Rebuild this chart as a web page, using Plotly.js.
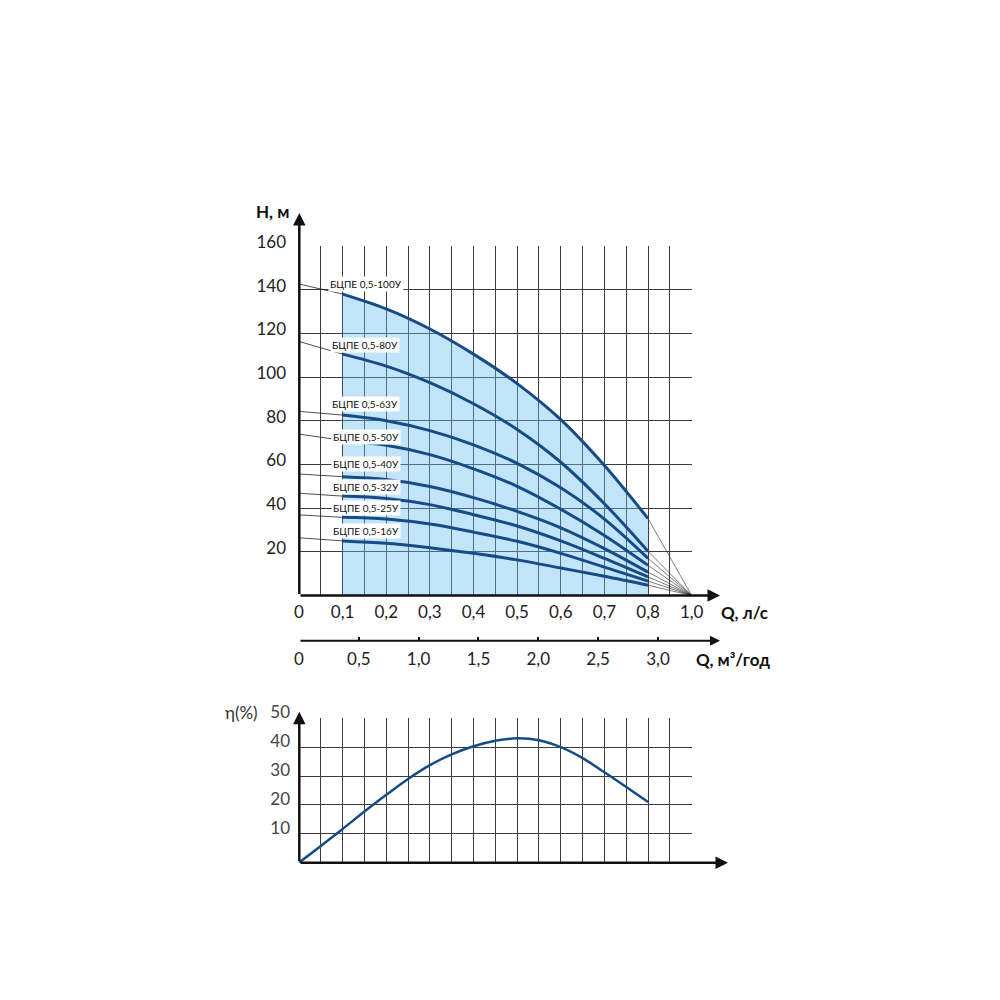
<!DOCTYPE html>
<html>
<head>
<meta charset="utf-8">
<script src="https://cdn.plot.ly/plotly-3.0.1.min.js"></script>
<style>
  html, body { margin: 0; padding: 0; background: #ffffff; }
  #chart { width: 1000px; height: 1000px; }
</style>
</head>
<body>
<div id="chart"></div>
<script>
// Pump family curves (H vs Q) and efficiency curve
const modelNames = ['БЦПЕ 0,5-100У', 'БЦПЕ 0,5-80У', 'БЦПЕ 0,5-63У', 'БЦПЕ 0,5-50У',
                    'БЦПЕ 0,5-40У', 'БЦПЕ 0,5-32У', 'БЦПЕ 0,5-25У', 'БЦПЕ 0,5-16У'];

// working range, л/с
const qFlow = [0.1, 0.2, 0.3, 0.4, 0.5, 0.6, 0.7, 0.8];

// head, м
const head100 = [138, 131.2, 122, 110.5, 97, 80.5, 59.5, 35.2];
const head80  = [110.5, 105, 97.4, 87.8, 76, 61, 42, 20.2];
const head63  = [82.6, 80, 75.5, 69, 60.5, 49.3, 35, 17];
const head50  = [71, 68.8, 64.5, 58, 50, 39.5, 27.5, 13.8];
const head40  = [54.4, 53.1, 49.9, 44.8, 38.5, 31, 21.5, 10.7];
const head32  = [45.5, 44.4, 41.6, 37, 31.8, 25, 17, 8.5];
const head25  = [35.8, 35, 32.7, 29, 24.8, 19.3, 13, 6.6];
const head16  = [25, 23.9, 21.9, 19.3, 16.3, 12.6, 8.8, 4.7];

// where the thin leader lines meet the H axis (Q = 0)
const headAtZero = [142.6, 116.3, 84.3, 73.9, 55.6, 46.8, 36.9, 26.4];

// all curves run out to the "1,0" mark of the axis
const qClosed = 0.9;

// efficiency, %
const effQ = [0, 0.05, 0.1, 0.15, 0.2, 0.25, 0.3, 0.35, 0.4, 0.45, 0.5, 0.55, 0.6, 0.65, 0.7, 0.75, 0.8];
const effPct = [0, 5.8, 11.7, 17.7, 23.5, 29, 33.8, 37.5, 40.3, 42.2, 43.1, 42.4, 40, 36.2, 31.3, 26.2, 21];

// axis ticks
const qTickVals = [0, 0.1, 0.2, 0.3, 0.4, 0.5, 0.6, 0.7, 0.8, 0.9];
const qTickText = ['0', '0,1', '0,2', '0,3', '0,4', '0,5', '0,6', '0,7', '0,8', '1,0'];
const m3TickVals = [0, 0.5, 1.0, 1.5, 2.0, 2.5, 3.0];
const m3TickText = ['0', '0,5', '1,0', '1,5', '2,0', '2,5', '3,0'];
const hTickVals = [20, 40, 60, 80, 100, 120, 140, 160];
const effTickVals = [10, 20, 30, 40, 50];

const heads = [head100, head80, head63, head50, head40, head32, head25, head16];

const CURVE = '#174b85';
const GRID = '#3c3c3c';
const FONT = 'Lato, "Open Sans", sans-serif';

// label placement for the model names (layout only)
const labelQ = [0.066, 0.071, 0.071, 0.073, 0.073, 0.073, 0.073, 0.073];
const labelH = [142.6, 114.5, 87.6, 72.5, 60.3, 49.6, 40.2, 29.7];

const traces = [];

// shaded working zone under the top curve
traces.push({
    x: qFlow, y: head100, type: 'scatter', mode: 'lines',
    fill: 'tozeroy', fillcolor: 'rgba(100,188,240,0.4)',
    line: { width: 0, shape: 'spline' },
    hoverinfo: 'skip', showlegend: false
});

heads.forEach(function(h, i) {
    // leader from H axis to curve start
    traces.push({
        x: [0, qFlow[0]], y: [headAtZero[i], h[0]], type: 'scatter', mode: 'lines',
        line: { color: '#222', width: 0.8 }, hoverinfo: 'skip', showlegend: false
    });
    // thin line from end of curve to closed valve point
    traces.push({
        x: [qFlow[qFlow.length - 1], qClosed], y: [h[h.length - 1], 0], type: 'scatter', mode: 'lines',
        line: { color: '#222', width: 0.6 }, hoverinfo: 'skip', showlegend: false
    });
});

heads.forEach(function(h, i) {
    traces.push({
        x: qFlow, y: h, type: 'scatter', mode: 'lines', name: modelNames[i],
        line: { color: CURVE, width: 3, shape: 'spline', smoothing: 1 },
        showlegend: false
    });
});

// efficiency curve
traces.push({
    x: effQ, y: effPct, type: 'scatter', mode: 'lines', xaxis: 'x2', yaxis: 'y2',
    line: { color: CURVE, width: 2.5, shape: 'spline', smoothing: 1 },
    showlegend: false
});

// empty trace so the м³/год axis is drawn
traces.push({ x: [], y: [], xaxis: 'x3', yaxis: 'y', type: 'scatter', hoverinfo: 'skip', showlegend: false });

function gridAxis(extra) {
    return Object.assign({
        showgrid: true, gridcolor: GRID, gridwidth: 1,
        zeroline: false, showline: false, ticks: '',
        tickfont: { family: FONT, size: 17, color: '#222' },
        fixedrange: true
    }, extra);
}

const annotations = [];

modelNames.forEach(function(name, i) {
    annotations.push({
        x: labelQ[i], y: labelH[i], xref: 'x', yref: 'y',
        text: name, showarrow: false, xanchor: 'left', yanchor: 'middle',
        bgcolor: '#ffffff', borderpad: 1,
        font: { family: FONT, size: 10, color: '#111' }
    });
});

// axis arrows (tip in paper coords, tail in pixels)
function arrow(x, y, ax, ay) {
    return {
        x: x, y: y, xref: 'paper', yref: 'paper', ax: ax, ay: ay,
        text: '', showarrow: true, arrowhead: 2, arrowsize: 1,
        arrowwidth: 2.5, arrowcolor: '#111', standoff: 0
    };
}
annotations.push(arrow(0.2993, 0.787, 0, 382.5));
annotations.push(arrow(0.720, 0.4045, -421, 0));
annotations.push(Object.assign(arrow(0.720, 0.3593, -421, 0), { arrowwidth: 2 }));
annotations.push(arrow(0.2993, 0.2883, 0, 151));
annotations.push(arrow(0.728, 0.1373, -429, 0));

function axisLabel(text, x, y, anchor, weight, color) {
    return {
        x: x, y: y, xref: 'paper', yref: 'paper', text: text, showarrow: false,
        xanchor: anchor, yanchor: 'middle',
        font: { family: FONT, size: 17, color: color || '#111', weight: weight || 'bold' }
    };
}
annotations.push(axisLabel('H, м', 0.2535, 0.7883, 'left'));
annotations.push(axisLabel('Q, л/с', 0.719, 0.388, 'left'));
annotations.push(axisLabel('Q, м³/год', 0.694, 0.340, 'left'));
annotations.push(axisLabel('η(%)', 0.2225, 0.2873, 'left', 'normal', '#333'));

const layout = {
    width: 1000, height: 1000,
    margin: { l: 0, r: 0, t: 0, b: 0 },
    paper_bgcolor: '#ffffff', plot_bgcolor: 'rgba(0,0,0,0)',
    showlegend: false,
    xaxis: gridAxis({
        domain: [0.299, 0.6917], range: [0, 0.9], anchor: 'y',
        tickmode: 'array', tickvals: qTickVals, ticktext: qTickText,
        ticklabelstandoff: 4,
        minor: { tick0: 0, dtick: 0.05, showgrid: true, gridcolor: GRID, gridwidth: 1 }
    }),
    yaxis: gridAxis({
        domain: [0.4045, 0.754], range: [0, 160], anchor: 'x',
        tickmode: 'array', tickvals: hTickVals,
        ticklabelstandoff: 12, ticklabelshift: -4
    }),
    xaxis3: {
        overlaying: 'x', anchor: 'free', position: 0.3593, side: 'bottom',
        range: [0, 3.282], showgrid: false, zeroline: false, showline: false,
        tickmode: 'array', tickvals: m3TickVals, ticktext: m3TickText,
        ticks: 'inside', ticklen: 4, tickwidth: 2, tickcolor: '#111',
        ticklabelstandoff: 6,
        tickfont: { family: FONT, size: 17, color: '#222' },
        fixedrange: true
    },
    xaxis2: gridAxis({
        domain: [0.299, 0.6917], range: [0, 0.9], anchor: 'y2',
        tickmode: 'array', tickvals: qTickVals, showticklabels: false,
        minor: { tick0: 0, dtick: 0.05, showgrid: true, gridcolor: GRID, gridwidth: 1 }
    }),
    yaxis2: gridAxis({
        domain: [0.1373, 0.2817], range: [0, 50], anchor: 'x2',
        tickmode: 'array', tickvals: effTickVals,
        ticklabelstandoff: 8, ticklabelshift: -6,
        tickfont: { family: FONT, size: 17, color: '#444' }
    }),
    annotations: annotations
};

Plotly.newPlot('chart', traces, layout, { displayModeBar: false, staticPlot: true });
</script>
</body>
</html>
